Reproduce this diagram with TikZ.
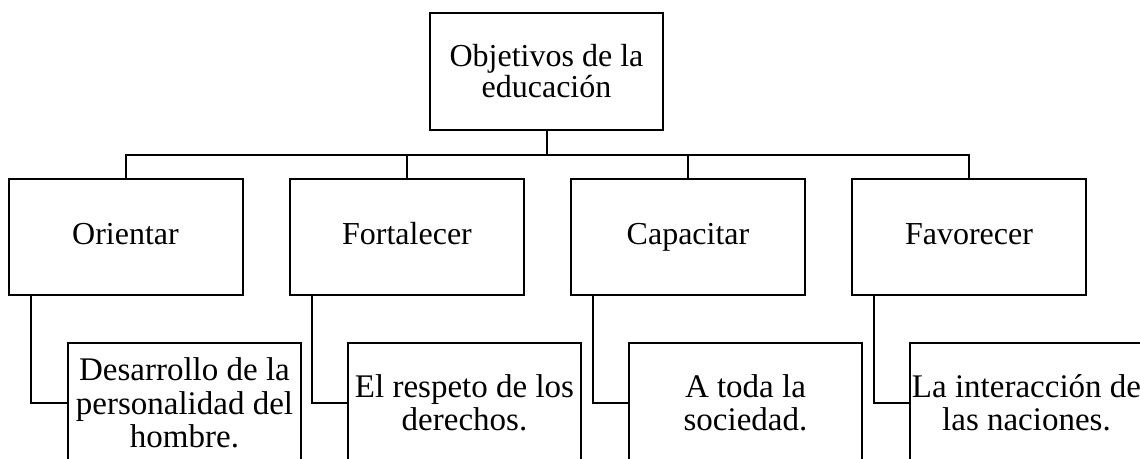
\documentclass[tikz,border=0pt]{standalone}
\usepackage{fontspec}
\setmainfont{Liberation Serif}
\usepackage{tikz}

\begin{document}
\begin{tikzpicture}[x=1pt,y=-1pt]

\tikzset{box/.style = {shape=rectangle,draw,line width=2pt,align=center,
    minimum width=234pt,minimum height=116pt,inner sep=0pt,
    font=\fontsize{32}{31}\selectfont}}
\tikzset{word/.style = {box,text height=22pt,text depth=7pt}}
\tikzset{sub/.style = {box,minimum width=233pt,minimum height=120pt,
    font=\fontsize{33}{33.5}\selectfont}}
\tikzset{edge/.style = {-,line width=2pt}}

\path[use as bounding box,clip] (0,0) rectangle (1140,458);

\node[box,minimum width=233pt,minimum height=117pt] (obj) at (546.5,71.5) {Objetivos de la\\educación};
\coordinate (bus) at (546.5,155);

\node[word] (orientar)    at (125.5,237) {Orientar};
\node[word] (fortalecer)  at (407,237)   {Fortalecer};
\node[word] (capacitar)   at (688,237)   {Capacitar};
\node[word] (favorecer)   at (969,237)   {Favorecer};

\node[sub] (desarrollo)  at (184.5,403)  {Desarrollo de la\\personalidad del\\hombre.};
\node[sub] (respeto)     at (464.5,403)  {El respeto de los\\derechos.};
\node[sub] (sociedad)    at (745.5,403)  {A toda la\\sociedad.};
\node[sub] (naciones)    at (1026.5,403) {La interacción de\\las naciones.};

%edges
\draw[edge] (obj.south) -- (bus);
\draw[edge] (orientar.north) |- (bus);
\draw[edge] (fortalecer.north) |- (bus);
\draw[edge] (capacitar.north) |- (bus);
\draw[edge] (favorecer.north) |- (bus);
\draw[edge] ([xshift=23pt]orientar.south west) |- (desarrollo.west);
\draw[edge] ([xshift=23pt]fortalecer.south west) |- (respeto.west);
\draw[edge] ([xshift=23pt]capacitar.south west) |- (sociedad.west);
\draw[edge] ([xshift=23pt]favorecer.south west) |- (naciones.west);
\end{tikzpicture}
\end{document}
